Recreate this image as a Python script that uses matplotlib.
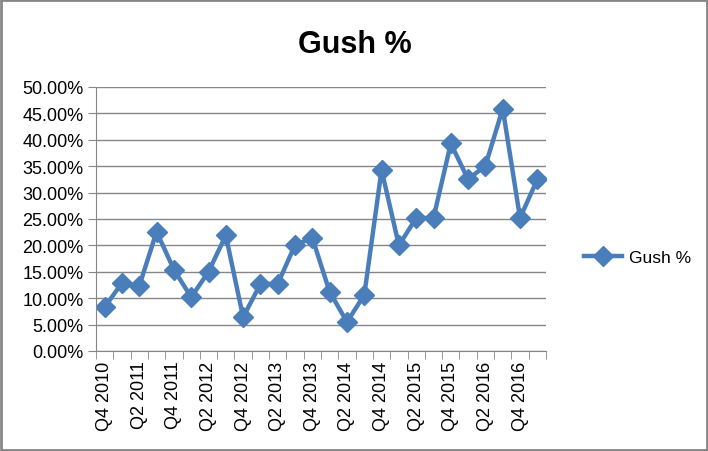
import numpy as np
import matplotlib.pyplot as plt
from matplotlib.patches import Rectangle

quarters = ["Q4 2010", "Q1 2011", "Q2 2011", "Q3 2011", "Q4 2011", "Q1 2012", "Q2 2012",
            "Q3 2012", "Q4 2012", "Q1 2013", "Q2 2013", "Q3 2013", "Q4 2013", "Q1 2014",
            "Q2 2014", "Q3 2014", "Q4 2014", "Q1 2015", "Q2 2015", "Q3 2015", "Q4 2015",
            "Q1 2016", "Q2 2016", "Q3 2016", "Q4 2016", "Q1 2017"]
gush = [8.3, 12.9, 12.3, 22.6, 15.4, 10.2, 15.0, 21.9, 6.4, 12.7, 12.7, 20.1, 21.4,
        11.2, 5.5, 10.6, 34.3, 20.0, 25.2, 25.2, 39.3, 32.5, 35.1, 45.9, 25.2, 32.5]
yticks = np.arange(0, 55, 5)

plt.rcParams['font.family'] = ['Liberation Sans', 'DejaVu Sans']

fig = plt.figure(figsize=(7.08, 4.52), dpi=100)
ax = fig.add_axes([96 / 708, 1 - 352 / 452, 450 / 708, 264 / 452])

x = np.arange(len(quarters))
line, = ax.plot(x, gush, color='#4a7ebb', lw=3.2, marker='D', ms=10, label='Gush %')

ax.set_xlim(-0.5, len(quarters) - 0.5)
ax.set_ylim(0, 50)
ax.set_yticks(yticks)
ax.set_yticklabels([f"{v:.2f}%" for v in yticks], fontsize=13)
ax.yaxis.grid(True, color='#868686', lw=1)
ax.set_axisbelow(True)

ax.set_xticks(x[::2])
ax.set_xticklabels(quarters[::2], rotation=90, fontsize=13)
ax.set_xticks(np.arange(-0.5, len(quarters), 1), minor=True)
ax.tick_params(axis='x', which='major', length=0, pad=7)
ax.tick_params(axis='x', which='minor', length=6, color='#868686')
ax.tick_params(axis='y', length=6, color='#868686', pad=3)

for s in ['top', 'right']:
    ax.spines[s].set_visible(False)
for s in ['left', 'bottom']:
    ax.spines[s].set_color('#868686')

fig.text(355 / 708, 1 - 45 / 452, 'Gush %', ha='center', va='center',
         fontsize=22, fontweight='bold')
fig.legend(handles=[line], loc='center left', bbox_to_anchor=(568 / 708, 1 - 258 / 452),
           frameon=False, fontsize=12.5, handlelength=2.2, handletextpad=0.4)

fig.patches.append(Rectangle((0.002, 0.003), 0.996, 0.994, transform=fig.transFigure,
                             fill=False, edgecolor='#868686', lw=2))

fig.savefig('out.png', dpi=100)
